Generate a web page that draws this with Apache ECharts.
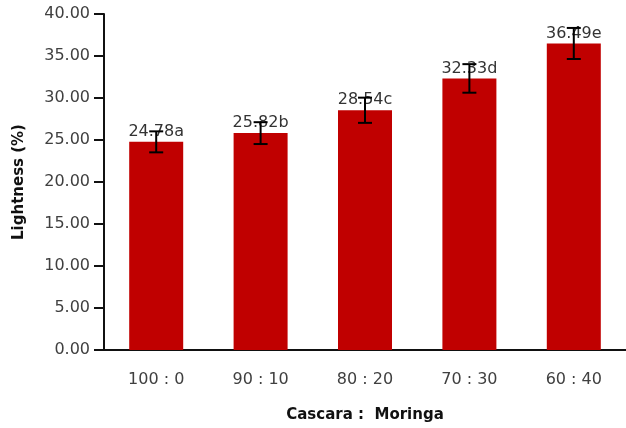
<!DOCTYPE html>
<html>
<head>
<meta charset="utf-8">
<script src="https://cdn.jsdelivr.net/npm/echarts@6/dist/echarts.min.js"></script>
<style>
html,body{margin:0;padding:0;background:#fff;}
#chart{width:626px;height:428px;}
</style>
</head>
<body>
<div id="chart"></div>
<script>
var categories = ['100 : 0', '90 : 10', '80 : 20', '70 : 30', '60 : 40'];
var values = [24.78, 25.82, 28.54, 32.33, 36.49];
var errors = [1.25, 1.3, 1.5, 1.7, 1.85];
var letters = ['a', 'b', 'c', 'd', 'e'];
var yTicks = { min: 0, max: 40, interval: 5 };

var errData = values.map(function (v, i) { return [i, v - errors[i], v + errors[i]]; });

var chart = echarts.init(document.getElementById('chart'));
var axisFont = { fontFamily: 'DejaVu Sans', fontSize: 16, color: '#404040' };
chart.setOption({
  animation: false,
  grid: { left: 104, top: 14, width: 530, height: 337 },
  xAxis: {
    type: 'category',
    data: categories,
    name: 'Cascara :  Moringa',
    nameLocation: 'middle',
    nameGap: 58,
    nameTextStyle: { fontFamily: 'DejaVu Sans', fontSize: 15, fontWeight: 'bold', color: '#111', verticalAlign: 'top' },
    axisLine: { lineStyle: { color: '#111', width: 2 } },
    axisTick: { length: 9, lineStyle: { color: '#111', width: 2 } },
    axisLabel: Object.assign({ margin: 22 }, axisFont)
  },
  yAxis: {
    type: 'value',
    min: yTicks.min, max: yTicks.max, interval: yTicks.interval,
    name: 'Lightness (%)',
    nameLocation: 'middle',
    nameGap: 77,
    nameTextStyle: { fontFamily: 'DejaVu Sans', fontSize: 15, fontWeight: 'bold', color: '#111' },
    axisLine: { show: true, lineStyle: { color: '#111', width: 2 } },
    axisTick: { show: true, length: 10, lineStyle: { color: '#111', width: 2 } },
    splitLine: { show: false },
    axisLabel: Object.assign({ margin: 14, formatter: function (v) { return v.toFixed(2); } }, axisFont)
  },
  series: [{
    type: 'bar',
    data: values,
    barWidth: 54,
    itemStyle: { color: '#c00000' },
    label: {
      show: true, position: 'top', distance: 2,
      fontFamily: 'DejaVu Sans', fontSize: 16, color: '#333',
      formatter: function (p) { return p.value.toFixed(2) + letters[p.dataIndex]; }
    },
    z: 2
  }, {
    type: 'custom',
    data: errData,
    z: 5,
    renderItem: function (params, api) {
      var i = api.value(0);
      var lo = api.coord([i, api.value(1)]);
      var hi = api.coord([i, api.value(2)]);
      var hw = 7;
      var st = { stroke: '#000', lineWidth: 2 };
      return {
        type: 'group',
        children: [
          { type: 'line', shape: { x1: lo[0], y1: lo[1], x2: hi[0], y2: hi[1] }, style: st },
          { type: 'line', shape: { x1: lo[0] - hw, y1: lo[1], x2: lo[0] + hw, y2: lo[1] }, style: st },
          { type: 'line', shape: { x1: hi[0] - hw, y1: hi[1], x2: hi[0] + hw, y2: hi[1] }, style: st }
        ]
      };
    }
  }]
});
</script>
</body>
</html>
